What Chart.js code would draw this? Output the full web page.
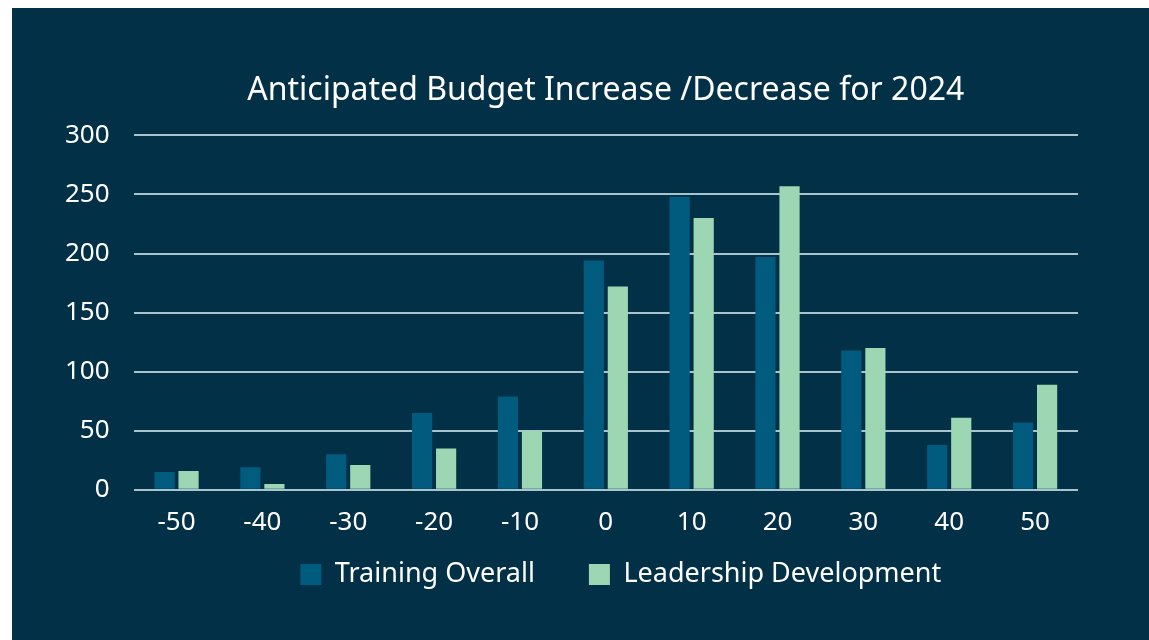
<!DOCTYPE html>
<html><head><meta charset="utf-8">
<script src="https://cdn.jsdelivr.net/npm/chart.js@4"></script>
<style>
html,body{margin:0;padding:0;background:#ffffff;width:1149px;height:640px;overflow:hidden;}
#wrap{position:absolute;left:12px;top:8px;width:1137px;height:632px;background:#023047;}
</style></head>
<body><div id="wrap"><canvas id="c" width="1137" height="632"></canvas></div>
<script>
const categories = ['-50','-40','-30','-20','-10','0','10','20','30','40','50'];
const trainingOverall = [15, 19, 30, 65, 79, 194, 248, 197, 118, 38, 57];
const leadershipDevelopment = [16, 5, 21, 35, 50, 172, 230, 257, 120, 61, 89];
const yTicks = [0, 50, 100, 150, 200, 250, 300];

Chart.defaults.font.family = '"Noto Sans", "Open Sans", sans-serif';
Chart.defaults.color = '#ffffff';

// Center title over the plot area and place the legend like the reference
const alignPlugin = {
  id: 'alignBlocks',
  afterLayout(chart) {
    const ca = chart.chartArea;
    if (chart.titleBlock) { chart.titleBlock.left = ca.left; chart.titleBlock.right = ca.right; }
    if (chart.legend) {
      const l = chart.legend;
      const target = (ca.left + ca.right) / 2 + 15;
      const shift = target - (l.left + l.right) / 2;
      l.left += shift; l.right += shift;
      l.top -= 48; l.bottom -= 48;
    }
  }
};

new Chart(document.getElementById('c'), {
  type: 'bar',
  data: {
    labels: categories,
    datasets: [
      {label: 'Training Overall', data: trainingOverall, backgroundColor: '#005b7f', categoryPercentage: 0.56, barPercentage: 0.84},
      {label: 'Leadership Development', data: leadershipDevelopment, backgroundColor: '#9dd6b2', categoryPercentage: 0.56, barPercentage: 0.84}
    ]
  },
  plugins: [alignPlugin],
  options: {
    responsive: false,
    animation: false,
    layout: {padding: {left: 29, right: 71, top: 64, bottom: -6}},
    plugins: {
      title: {display: true, text: 'Anticipated Budget Increase /Decrease for 2024', color: '#ffffff',
        font: {size: 32, weight: 'normal'}, padding: {top: 0, bottom: 25}},
      legend: {position: 'bottom', labels: {color: '#ffffff', font: {size: 27}, boxWidth: 21, boxHeight: 21, padding: 54}},
      tooltip: {enabled: false}
    },
    scales: {
      x: {grid: {display: false, drawTicks: false}, border: {display: false},
        ticks: {color: '#ffffff', font: {size: 26}, padding: 17}},
      y: {min: 0, max: 300, afterBuildTicks: (s) => { s.ticks = yTicks.map(v => ({value: v})); },
        grid: {color: '#a9c4cc', lineWidth: 2, drawTicks: false}, border: {display: false},
        ticks: {color: '#ffffff', font: {size: 26}, padding: 24}}
    }
  }
});
</script></body></html>
